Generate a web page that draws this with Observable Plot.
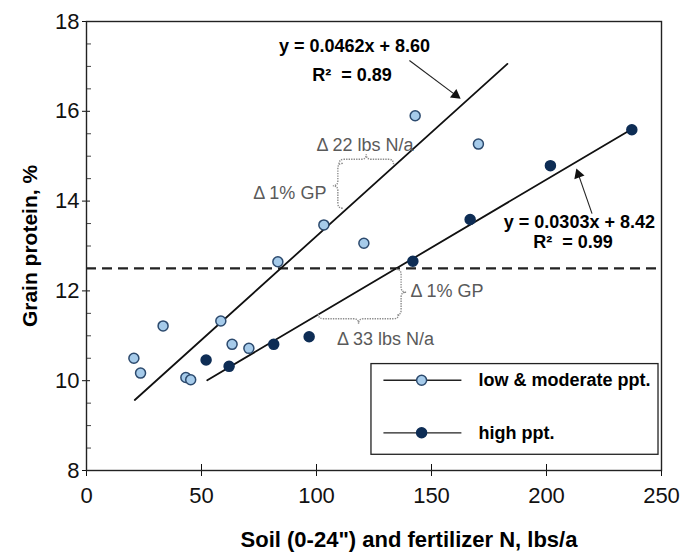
<!DOCTYPE html>
<html><head><meta charset="utf-8">
<script src="https://cdn.jsdelivr.net/npm/d3@7"></script>
<script src="https://cdn.jsdelivr.net/npm/@observablehq/plot@0.6"></script>
<style>body{margin:0;background:#fff}</style>
</head><body><div id="chart"></div>
<script>
// ---- data ----
const lowX  = [20.6, 23.5, 33.3, 43.2, 45.3, 58.4, 63.3, 70.6, 83.2, 103.2, 120.6, 142.9, 170.4];
const lowY  = [10.50, 10.17, 11.22, 10.07, 10.02, 11.33, 10.81, 10.72, 12.65, 13.47, 13.06, 15.90, 15.27];
const highX = [52.0, 62.0, 81.4, 96.8, 141.9, 166.8, 201.7, 237.1];
const highY = [10.46, 10.32, 10.81, 10.98, 12.66, 13.59, 14.79, 15.59];
const fitSlope = [0.0462, 0.0303];
const fitIntercept = [8.60, 8.42];
const fitFromX = [21, 52.5];
const fitToX = [183, 237];
const thresholdY = [12.5];
const xTicks = [0, 50, 100, 150, 200, 250];
const yTicks = [8, 10, 12, 14, 16, 18];
const yMinor = [8.5, 9, 9.5, 10.5, 11, 11.5, 12.5, 13, 13.5, 14.5, 15, 15.5, 16.5, 17, 17.5];
const seriesNames = ["low & moderate ppt.", "high ppt."];
const eqTexts = ["y = 0.0462x + 8.60", "R\u00B2  = 0.89", "y = 0.0303x + 8.42", "R\u00B2  = 0.99"];
const eqX = [116.5, 115.4, 214.3, 211.5];
const eqY = [17.46, 16.80, 13.52, 13.08];
const arrowX1 = [140.4, 219.8], arrowY1 = [17.13, 13.72];
const arrowX2 = [162.6, 213.0], arrowY2 = [16.28, 14.72];
const deltaMidTexts = ["\u0394 22 lbs N/a", "\u0394 33 lbs N/a"];
const deltaMidX = [121.1, 130.0], deltaMidY = [15.235, 10.93];
const gpTexts = ["\u0394 1% GP", "\u0394 1% GP"];
const gpX = [104.3, 140.9], gpY = [14.165, 12.0];
// braces: orientation, fixed coord, from, to, tip direction
const braceOrient = ["v", "h", "v", "h"];
const braceAt   = [109.5, 14.92, 137.0, 11.37];
const braceFrom = [13.83, 110.0, 11.45, 101.0];
const braceTo   = [14.83, 133.7, 12.47, 136.0];
const braceTip  = [-1, -1, 1, 1];
// legend (data units)
const legendBoxX = [123.9, 248.7], legendBoxY = [8.35, 10.37];
const legendLineX = [129.1, 163.0], legendDotX = [145.7], legendTextX = [170.4];
const legendRowY = [10.01, 8.84];

// ---- layout ----
const W = 696, H = 560, ML = 86, MR = 35, MT = 21, MB = 90;
const kx = (W - ML - MR) / 250, ky = (H - MT - MB) / 10;
const lightFill = "#a6cbea", lightStroke = "#2c4a6e", darkFill = "#0e2d55";
const font = "Liberation Sans, Arial, sans-serif";

const low = lowX.map((x, i) => ({x, y: lowY[i]}));
const high = highX.map((x, i) => ({x, y: highY[i]}));
const fits = fitSlope.flatMap((m, i) => [
  {s: i, x: fitFromX[i], y: m * fitFromX[i] + fitIntercept[i]},
  {s: i, x: fitToX[i], y: m * fitToX[i] + fitIntercept[i]}
]);
const arrows = arrowX1.map((x1, i) => {
  const x2 = arrowX2[i], y2 = arrowY2[i];
  const dxp = (x2 - x1) * kx, dyp = -(y2 - arrowY1[i]) * ky;
  const len = Math.hypot(dxp, dyp), ux = dxp / len, uy = dyp / len;
  const back = 6;
  return {x1, y1: arrowY1[i], x2, y2,
    hx: x2 - back * ux / kx, hy: y2 + back * uy / ky,
    rot: Math.atan2(dxp, -dyp) * 180 / Math.PI};
});
const eqs = eqTexts.map((t, i) => ({t, x: eqX[i], y: eqY[i]}));
const mids = deltaMidTexts.map((t, i) => ({t, x: deltaMidX[i], y: deltaMidY[i]}));
const legendRows = seriesNames.map((t, i) => ({t, y: legendRowY[i], fill: i ? darkFill : lightFill, stroke: i ? darkFill : lightStroke}));

function braces(index, scales) {
  const g = d3.create("svg:g").attr("fill", "none").attr("stroke", "#8c8c8c")
    .attr("stroke-width", 1.4).attr("stroke-dasharray", "1.4,1.1");
  const w = 5, r = 5;
  braceOrient.forEach((o, i) => {
    const s = braceTip[i];
    let d;
    if (o === "v") {
      const xb = scales.x(braceAt[i]), ya = scales.y(braceTo[i]), yb = scales.y(braceFrom[i]);
      const ym = (ya + yb) / 2, xe = xb - s * w, xt = xb + s * w;
      d = `M${xe},${ya}Q${xb},${ya} ${xb},${ya + r}L${xb},${ym - r}Q${xb},${ym} ${xt},${ym}Q${xb},${ym} ${xb},${ym + r}L${xb},${yb - r}Q${xb},${yb} ${xe},${yb}`;
    } else {
      const yb = scales.y(braceAt[i]), xa = scales.x(braceFrom[i]), xz = scales.x(braceTo[i]);
      const xm = (xa + xz) / 2, ye = yb - s * w, yt = yb + s * w;
      d = `M${xa},${ye}Q${xa},${yb} ${xa + r},${yb}L${xm - r},${yb}Q${xm},${yb} ${xm},${yt}Q${xm},${yb} ${xm + r},${yb}L${xz - r},${yb}Q${xz},${yb} ${xz},${ye}`;
    }
    g.append("path").attr("d", d);
  });
  return g.node();
}

const chart = Plot.plot({
  width: W, height: H,
  marginLeft: ML, marginRight: MR, marginTop: MT, marginBottom: MB,
  style: {fontFamily: font, fontSize: "22px", color: "#111", background: "#fff"},
  x: {domain: [0, 250]},
  y: {domain: [8, 18]},
  marks: [
    Plot.axisX({ticks: xTicks, tickSize: 6, tickPadding: 11, tickFormat: d => String(d), fontSize: 22, label: null}),
    Plot.axisY({ticks: yTicks, tickSize: 4, tickPadding: 3, tickFormat: d => String(d), fontSize: 22, label: null}),
    Plot.ruleX(xTicks, {y1: 8, y2: 8 + 6 / ky, stroke: "#111", strokeWidth: 1}),
    Plot.ruleY(yTicks, {x1: 0, x2: 4 / kx, stroke: "#111", strokeWidth: 1}),
    Plot.ruleY(yMinor, {x1: 0, x2: 5 / kx, stroke: "#444", strokeWidth: 1}),
    Plot.ruleY(thresholdY, {stroke: "#222", strokeWidth: 2.2, strokeDasharray: "10,6"}),
    Plot.line(fits, {x: "x", y: "y", z: "s", stroke: "#111", strokeWidth: 1.8}),
    braces,
    Plot.link(arrows, {x1: "x1", y1: "y1", x2: "hx", y2: "hy", stroke: "#222", strokeWidth: 1.1}),
    Plot.dot(arrows, {x: "hx", y: "hy", symbol: "triangle", r: 4, fill: "#111", rotate: "rot"}),
    Plot.dot(low, {x: "x", y: "y", r: 5, fill: lightFill, stroke: lightStroke, strokeWidth: 1.5}),
    Plot.dot(high, {x: "x", y: "y", r: 5, fill: darkFill, stroke: darkFill, strokeWidth: 1.5}),
    Plot.text(eqs, {x: "x", y: "y", text: "t", fontSize: 18, fontWeight: "bold", fill: "#000"}),
    Plot.text(mids, {x: "x", y: "y", text: "t", fontSize: 18, fill: "#5a5a5a"}),
    Plot.text([gpTexts[0]], {x: [gpX[0]], y: [gpY[0]], textAnchor: "end", fontSize: 18, fill: "#5a5a5a"}),
    Plot.text([gpTexts[1]], {x: [gpX[1]], y: [gpY[1]], textAnchor: "start", fontSize: 18, fill: "#5a5a5a"}),
    // legend
    Plot.rect([0], {x1: legendBoxX[0], x2: legendBoxX[1], y1: legendBoxY[0], y2: legendBoxY[1], fill: "#fff", stroke: "#222", strokeWidth: 1.3}),
    Plot.link(legendRows, {x1: legendLineX[0], x2: legendLineX[1], y1: "y", y2: "y", stroke: "#222", strokeWidth: 1.3}),
    Plot.dot(legendRows, {x: legendDotX[0], y: "y", r: 5, fill: d => d.fill, stroke: d => d.stroke, strokeWidth: 1.5}),
    Plot.text(legendRows, {x: legendTextX[0], y: "y", text: "t", textAnchor: "start", fontSize: 18, fontWeight: "bold", fill: "#000"}),
    Plot.frame({stroke: "#222", strokeWidth: 1.4}),
    Plot.text(["Grain protein, %"], {frameAnchor: "left", textAnchor: "middle", rotate: -90, dx: -56, fontSize: 21, fontWeight: "bold", fill: "#000"}),
    Plot.text(["Soil (0-24\") and fertilizer N, lbs/a"], {frameAnchor: "bottom", textAnchor: "middle", dx: 35, dy: 76, fontSize: 22, fontWeight: "bold", fill: "#000"})
  ]
});
document.getElementById("chart").appendChild(chart);
</script>
</body></html>
